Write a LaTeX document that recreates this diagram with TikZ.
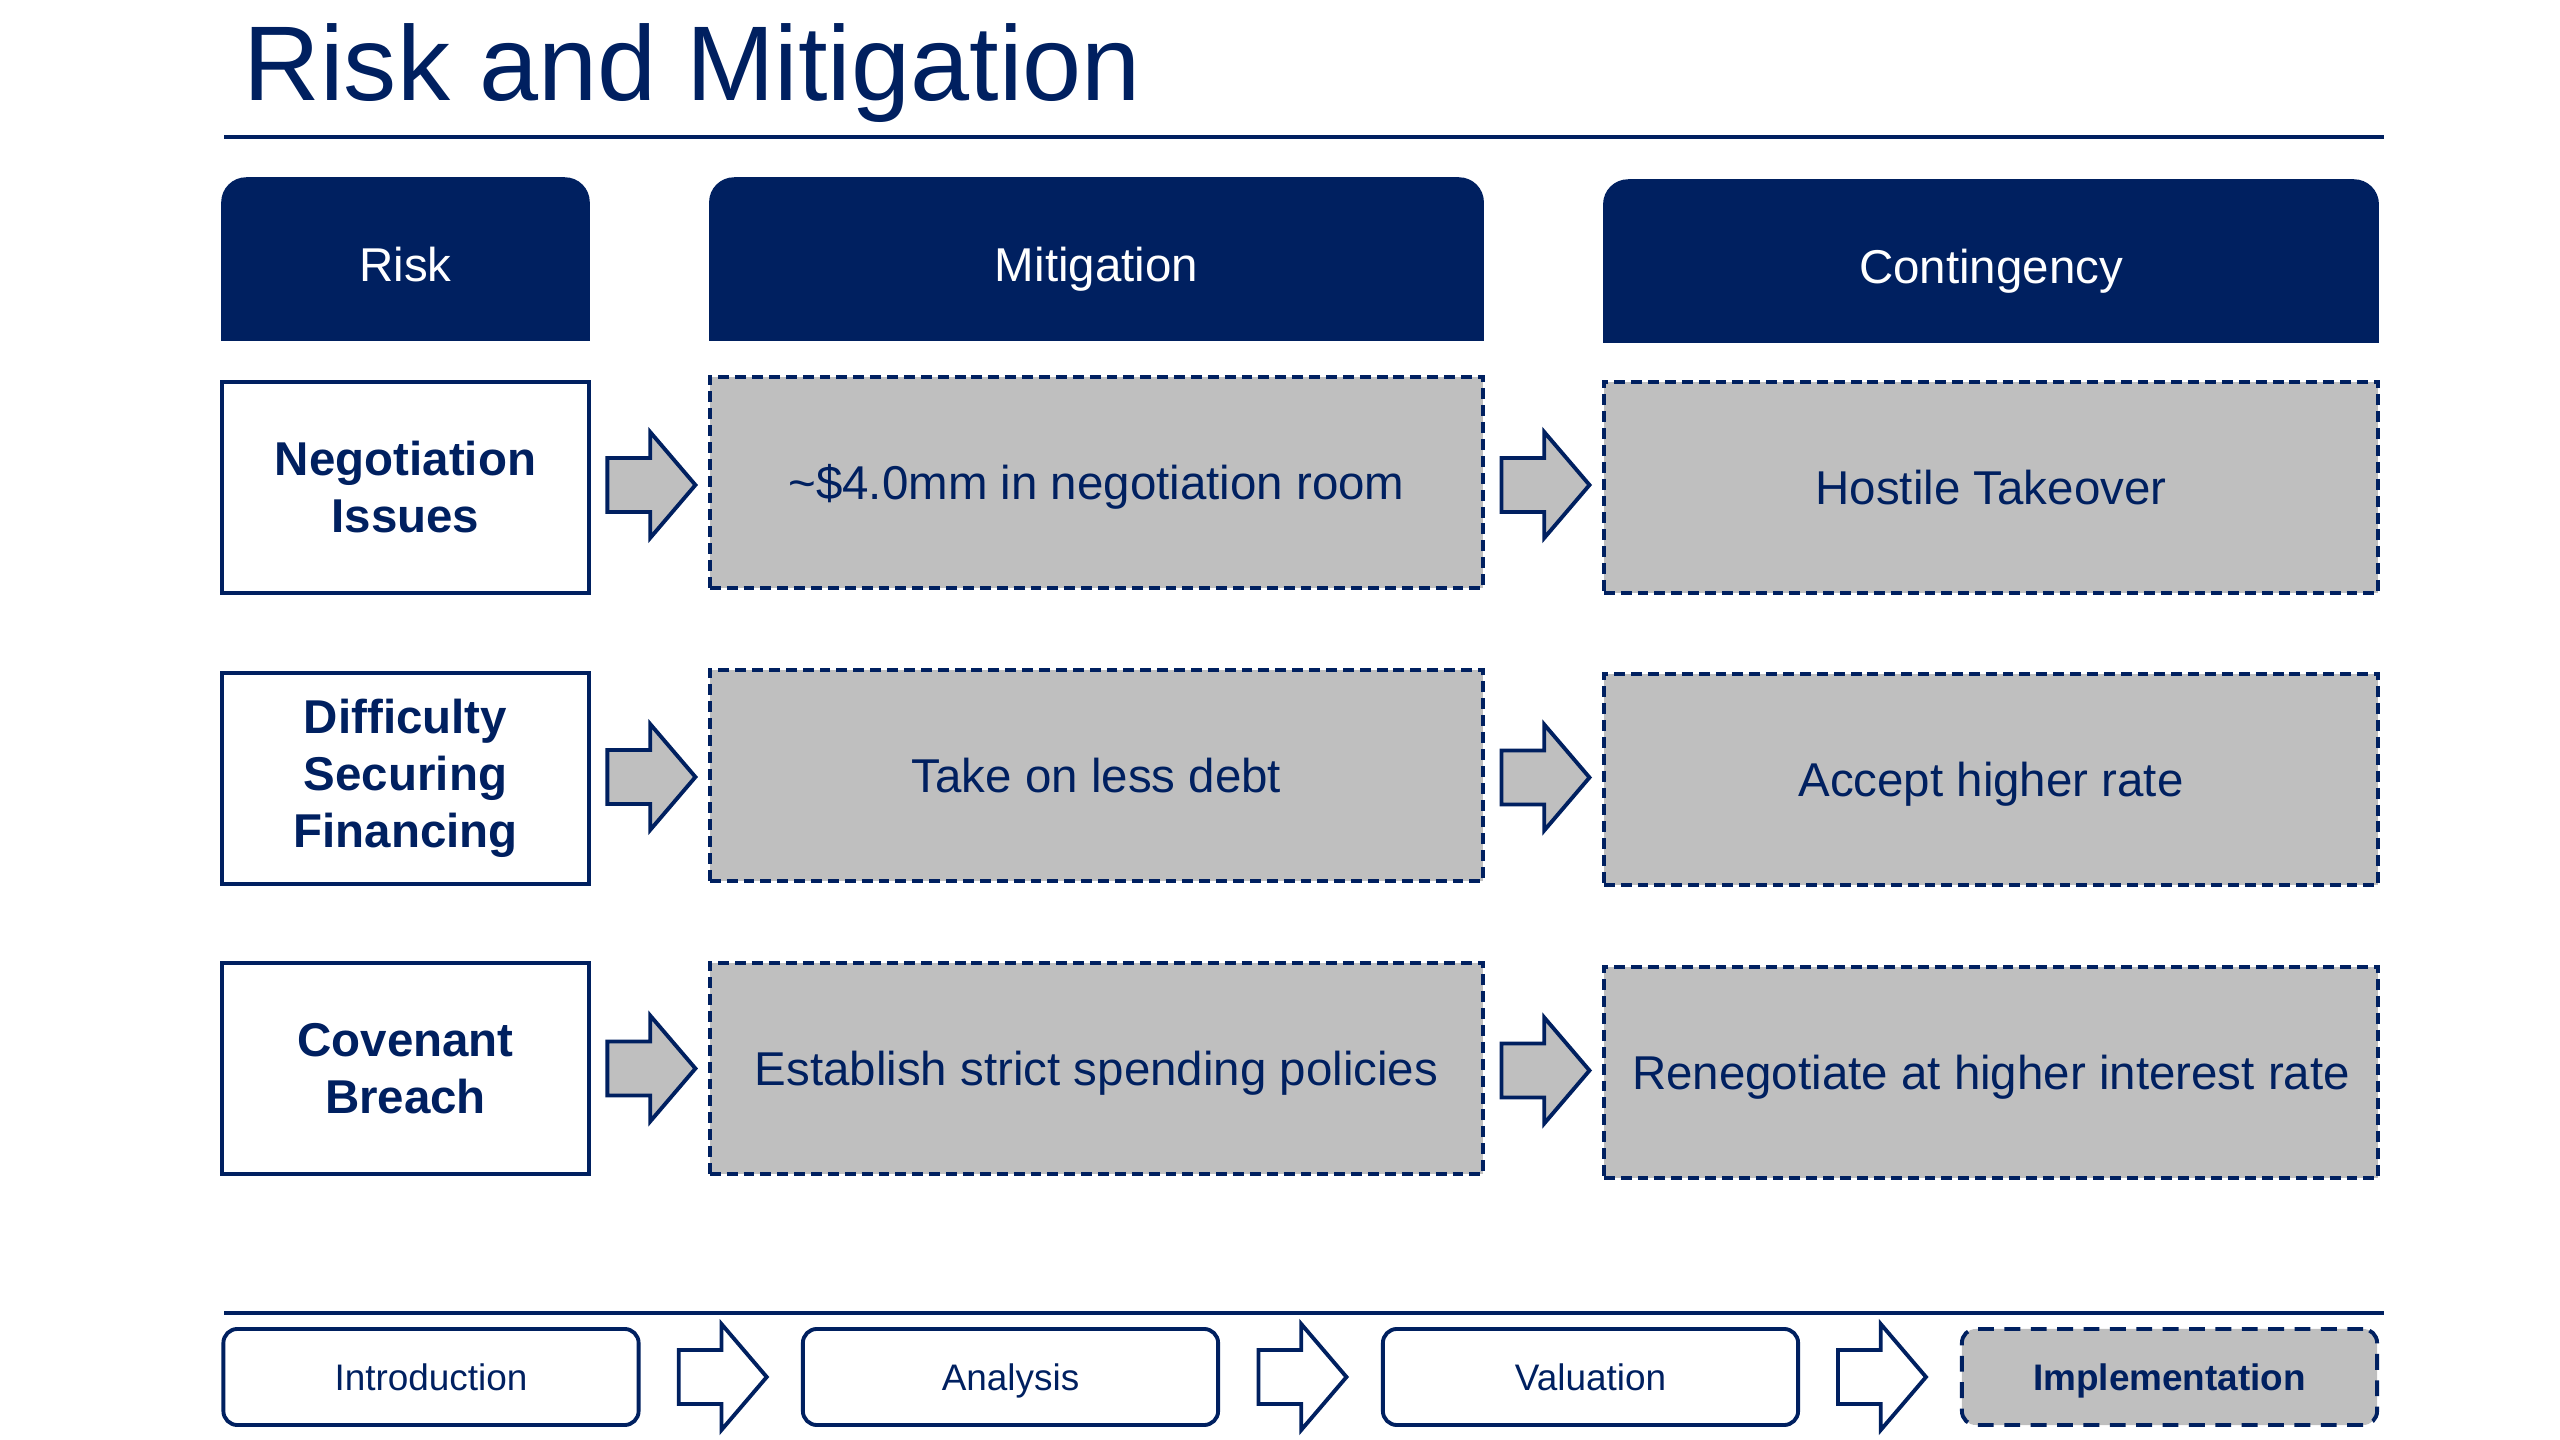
\documentclass[tikz,border=0pt]{standalone}
\usepackage{fontspec}
\setmainfont{Liberation Sans}
\usetikzlibrary{shapes.arrows,calc,backgrounds}
\definecolor{navy}{RGB}{0,32,96}
\definecolor{boxgray}{RGB}{191,191,191}
\begin{document}
\begin{tikzpicture}[x=0.01cm,y=-0.01cm,
  every node/.style={text=navy},
  hdrtext/.style={inner sep=0pt, minimum height=1.62cm, text height=12.6pt, text depth=0pt, font=\fontsize{13.5}{16.2}\selectfont, text=white},
  rowbox/.style={minimum height=2.11cm, inner sep=0pt, align=center},
  riskbox/.style={rowbox, draw=navy, line width=1.1pt, fill=white, minimum width=3.67cm, font=\fontsize{13.5}{16.2}\selectfont\bfseries},
  mitbox/.style={rowbox, draw=navy, line width=1.1pt, dash pattern=on 3.1pt off 1.7pt, fill=boxgray, text height=9.7pt, text depth=0pt, font=\fontsize{13.5}{16.2}\selectfont},
  blockarrow/.style={single arrow, draw=navy, line width=1.1pt, fill=boxgray, inner xsep=0pt, inner ysep=0.25cm, single arrow head extend=0.26cm, single arrow tip angle=99, minimum height=0.88cm, anchor=tail},
  navarrow/.style={blockarrow, fill=white},
  navbox/.style={draw=navy, line width=1.1pt, rounded corners=0.14cm, inner sep=0pt, minimum width=4.15cm, minimum height=0.96cm, text height=7.5pt, text depth=0pt, font=\fontsize{10.5}{12.6}\selectfont},
  navcur/.style={navbox, fill=boxgray, dash pattern=on 4.5pt off 3pt, font=\fontsize{10.5}{12.6}\selectfont\bfseries},
  rulestyle/.style={draw=navy, line width=1.1pt},
  hdrfill/.style={fill=navy, rounded corners=0.25cm}
]
\useasboundingbox (0,0) rectangle (2560,1440);

% title
\node[anchor=base west, inner sep=0pt, font=\fontsize{30.2}{36}\selectfont] (title) at (243,101) {Risk and Mitigation};
\coordinate (tr1) at (224,137);
\coordinate (tr2) at (2384,137);
\draw[rulestyle] (tr1) -- (tr2);

% headers
\node[hdrtext, minimum width=3.67cm] (hRisk) at (405.5,259) {Risk};
\node[hdrtext, minimum width=7.73cm] (hMit) at (1096.5,259) {Mitigation};
\node[hdrtext, minimum width=7.74cm] (hCon) at (1991,261) {Contingency};
\begin{scope}[on background layer]
\foreach \h in {hRisk,hMit,hCon}{
  \fill[hdrfill] (\h.south west) rectangle (\h.north east);
  \fill[navy] (\h.south west) rectangle (\h.east);
}
\end{scope}

% row 1
\node[riskbox] (r1) at (405.5,487.5) {Negotiation\\Issues};
\node[mitbox, minimum width=7.73cm] (m1) at (1096.5,482.5) {\textasciitilde\$4.0mm in negotiation room};
\node[mitbox, minimum width=7.74cm] (c1) at (1991,487.5) {Hostile Takeover};
% row 2
\node[riskbox] (r2) at (405.5,778.5) {Difficulty\\Securing\\Financing};
\node[mitbox, minimum width=7.73cm] (m2) at (1096.5,775.5) {Take on less debt};
\node[mitbox, minimum width=7.74cm] (c2) at (1991,779.5) {Accept higher rate};
% row 3
\node[riskbox] (r3) at (405.5,1068.5) {Covenant\\Breach};
\node[mitbox, minimum width=7.73cm] (m3) at (1096.5,1068.5) {Establish strict spending policies};
\node[mitbox, minimum width=7.74cm] (c3) at (1991,1072.5) {Renegotiate at higher interest rate};

% arrows
\foreach \i in {1,2,3}{
  \node[blockarrow] (ra\i) at ($(r\i.east)!0.5!(m\i.west)+(-44,0)$) {};
  \node[blockarrow] (ma\i) at ($(m\i.east)!0.5!(c\i.west)+(-44,0)$) {};
}

% bottom navigation
\coordinate (br1) at (224,1313);
\coordinate (br2) at (2384,1313);
\draw[rulestyle] (br1) -- (br2);
\node[navbox] (n1) at (431,1377) {Introduction};
\node[navbox] (n2) at (1010.5,1377) {Analysis};
\node[navbox] (n3) at (1590.5,1377) {Valuation};
\node[navcur] (n4) at (2169.5,1377) {Implementation};
\node[navarrow] (na1) at ($(n1.east)!0.5!(n2.west)+(-44,0)$) {};
\node[navarrow] (na2) at ($(n2.east)!0.5!(n3.west)+(-44,0)$) {};
\node[navarrow] (na3) at ($(n3.east)!0.5!(n4.west)+(-44,0)$) {};
\end{tikzpicture}
\end{document}
